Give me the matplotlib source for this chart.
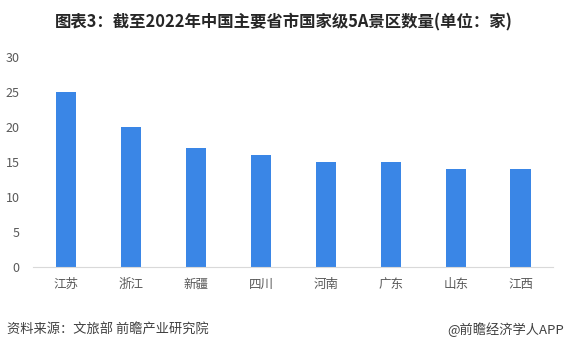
import numpy as np
from matplotlib import pyplot as plt

plt.rcParams['font.family'] = ['Noto Sans CJK SC', 'DejaVu Sans']

# provinces and number of 5A scenic spots
provinces = ['江苏', '浙江', '新疆', '四川', '河南', '广东', '山东', '江西']
spot_counts = [25, 20, 17, 16, 15, 15, 14, 14]
y_ticks = [0, 5, 10, 15, 20, 25, 30]

fig = plt.figure(figsize=(5.67, 3.53), dpi=100)
ax = fig.add_axes([0.059, 0.2436, 0.917, 0.595])

x = np.arange(len(provinces))
ax.bar(x, spot_counts, width=0.32, color='#3A86E6')

ax.set_xlim(-0.5, len(provinces) - 0.5)
ax.set_ylim(0, 30)
ax.set_yticks(y_ticks)
ax.set_xticks(x)
ax.set_xticklabels(provinces)

for side in ['top', 'right', 'left']:
    ax.spines[side].set_visible(False)
ax.spines['bottom'].set_color('#d9d9d9')
ax.tick_params(axis='both', length=0, labelsize=9, colors='#595959')
ax.tick_params(axis='x', pad=8)
ax.tick_params(axis='y', pad=10)

# title and footer
fig.text(0.5, 0.937, '图表3：截至2022年中国主要省市国家级5A景区数量(单位：家)',
         ha='center', va='center', fontsize=11.8, fontweight='bold',
         color='#262626')
fig.text(0.012, 0.065, '资料来源：文旅部 前瞻产业研究院', ha='left',
         va='center', fontsize=9.5, color='#404040')
fig.text(0.995, 0.065, '@前瞻经济学人APP', ha='right', va='center',
         fontsize=9.5, color='#404040')

fig.savefig('out.png', dpi=100)
